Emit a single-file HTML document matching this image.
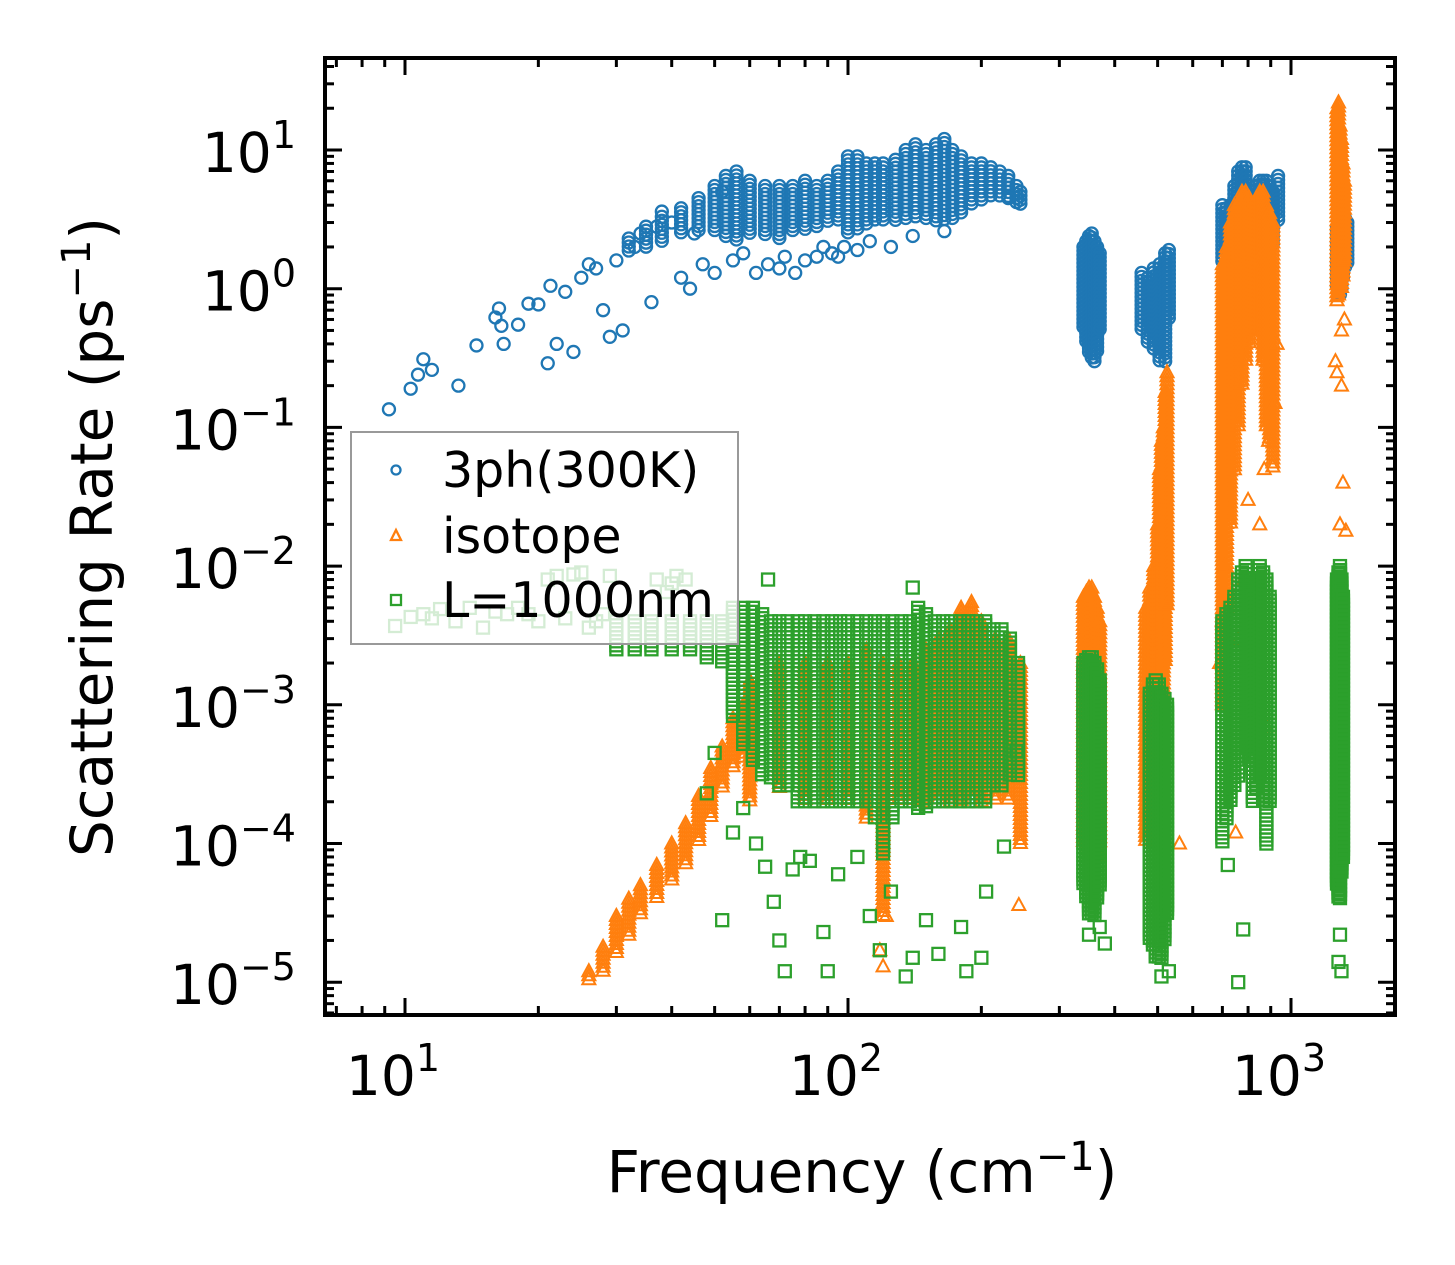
<!DOCTYPE html>
<html><head><meta charset="utf-8"><style>
html,body{margin:0;padding:0;background:#fff;}
svg{display:block;font-family:"DejaVu Sans","Liberation Sans",sans-serif;}
</style></head><body>
<svg id="chart" width="1455" height="1265" viewBox="0 0 1455 1265" xmlns="http://www.w3.org/2000/svg">
<rect width="1455" height="1265" fill="#fff"/>
<g id="marks"></g>
<g id="axes"></g>
<g id="legend"></g>
</svg>
<script>
// ---- data: 3ph(300K) ----
const blueBandF  = [32,35,38,42,46,50,53,56,60,65,70,75,80,85,90,95,100,105,110,115,120,128,135,142,150,158,165,172,180,190,200,210,220,230,240,245, 340,345,350,355,360,365,370, 460,475,490,505,520,530, 700,715,730,745,760,775,790,805,820,835,850,865,880,895,910,935, 1270,1280,1290,1300,1310,1325,1340];
const blueBandLo = [1.8,2.0,2.2,2.4,2.6,2.5,2.3,2.2,2.5,2.4,2.3,2.5,2.6,2.8,3.0,3.0,2.5,2.6,2.8,3.0,3.0,3.0,3.2,3.3,3.2,3.0,3.0,3.2,3.5,4.0,4.2,4.5,4.5,4.5,4.2,4.0, 0.5,0.4,0.35,0.3,0.3,0.35,0.5, 0.5,0.4,0.35,0.3,0.3,0.6, 1.5,1.8,2.0,2.2,2.5,2.5,2.5,2.5,2.5,2.2,2.0,2.2,2.5,2.3,2.0,3.0, 1.0,0.9,0.9,1.0,1.2,1.4,1.5];
const blueBandHi = [2.3,2.8,3.3,3.8,4.5,5.5,6.5,7.0,6.0,5.5,5.5,5.5,6.0,5.5,6.0,7.0,9.0,9.0,8.0,8.0,8.0,8.5,10,11,10,11,12,10,9,8,8,7.5,7,6.5,5.5,5.0, 2.0,2.2,2.4,2.5,2.2,2.0,1.8, 1.3,1.2,1.4,1.5,1.8,1.9, 4.0,3.8,4.0,5.5,7.0,7.5,7.5,5.5,5.0,5.5,6.0,6.0,6.0,5.5,5.0,6.5, 2.8,2.9,3.0,3.3,3.5,3.2,3.0];
const bluePtF = [9.2,10.3,10.7,11,11.5,13.2,14.5,16,16.3,16.5,16.7,18,19,20,21,21.3,22,23,24,25,26,27,28,29,30,31,33,34,36,37,38,40,42,44,45,47,50,52,55,58,62,66,70,72,76,80,85,88,92,98,105,112,125,140,165,95,230];
const bluePtR = [0.135,0.19,0.24,0.31,0.26,0.2,0.39,0.62,0.72,0.54,0.4,0.55,0.78,0.77,0.29,1.05,0.4,0.95,0.35,1.2,1.5,1.4,0.7,0.45,1.6,0.5,2.0,2.5,0.8,2.8,3.6,3.0,1.2,1.0,2.5,1.5,1.3,5.0,1.6,1.8,1.3,1.5,1.4,1.7,1.3,1.6,1.7,2.0,1.8,2.0,1.9,2.2,2.0,2.4,2.6,1.7,4.5];

// ---- data: isotope ----
const orgBandF  = [26,28,30,32,34,37,40,43,46,49,52,55,58, 60,70,80,90,100,110,120,130,140,150,160,170,180,190,200,215,230,245, 340,345,350,355,360,365,370, 470,480,490,500,505,510,515,520,525, 700,715,730,745,760,775,790,805,820,835,850,865,880,895,910, 1270,1280,1290,1300,1310,1320];
const orgBandLo = [1e-5,1.2e-5,1.6e-5,2.2e-5,3e-5,4e-5,5.5e-5,7e-5,1e-4,1.5e-4,2.5e-4,3.5e-4,4e-4, 2e-4,2.5e-4,2e-4,2e-4,2e-4,1.5e-4,3e-5,2e-4,2e-4,2e-4,2e-4,2e-4,2e-4,2e-4,2e-4,2e-4,2e-4,1e-4, 1e-4,9e-5,8e-5,6e-5,5e-5,8e-5,1e-4, 1e-4,1.5e-4,2e-4,3e-4,4e-4,6e-4,1e-3,2e-3,5e-3, 1e-3,5e-3,2e-2,5e-2,0.1,0.2,0.3,0.4,0.5,0.5,0.5,0.3,0.1,0.08,0.05, 0.8,0.9,1.0,1.0,1.2,1.5];
const orgBandHi = [1.2e-5,1.8e-5,3e-5,4e-5,5e-5,7e-5,1e-4,1.4e-4,2.2e-4,3.5e-4,5e-4,8e-4,1e-3, 1.5e-3,2e-3,2e-3,2e-3,2e-3,2.5e-3,2e-3,2e-3,2e-3,2.5e-3,3e-3,3.5e-3,5e-3,5.5e-3,4e-3,3e-3,3e-3,2e-3, 6e-3,6.5e-3,7e-3,7e-3,6e-3,5e-3,4e-3, 5e-3,7e-3,1e-2,2e-2,5e-2,8e-2,0.1,0.18,0.25, 1.5,2,3,4,4,5,5,4.5,4,4.5,5,5,4,3.5,3, 20,22,15,12,8,6];
const orgPtF = [243,240,120,118,122,560,750,880,1270,1300,1290,1330,1310,890,870,850,930,920,800,780,760,710,1320,1300,1260,700,690];
const orgPtR = [3.6e-5,4e-4,1.3e-5,1.7e-5,3e-5,1e-4,1.2e-4,7e-4,0.25,0.2,0.02,0.018,0.04,0.08,0.05,0.02,0.4,0.15,0.03,0.008,0.003,0.01,0.6,0.5,0.3,0.004,0.002];

// ---- data: L=1000nm ----
const grnBandF  = [30,33,36,40,44,48,52, 55,58,61,64,67,70,73,77,80,84,88,92,96,100,105,110,115,120,126,132,138,144,150,157,164,171,179,187,195,204,213,222,232,242, 340,345,350,355,360,365,370, 480,488,495,503,510,518,525, 700,715,730,745,760,775,790,805,820,835,850,865,880,895, 1270,1280,1290,1300,1310];
const grnBandLo = [2.5e-3,2.5e-3,2.5e-3,2.5e-3,2.5e-3,2.2e-3,2e-3, 8e-4,5e-4,4e-4,3e-4,3e-4,2.5e-4,2.5e-4,2e-4,2e-4,2e-4,2e-4,2e-4,2e-4,2e-4,2e-4,2e-4,1.5e-4,8e-5,1.5e-4,2e-4,2e-4,1.8e-4,1.8e-4,2e-4,2e-4,2e-4,2e-4,2e-4,2e-4,2e-4,2.5e-4,2.5e-4,3e-4,3e-4, 5e-5,4e-5,3e-5,3e-5,3e-5,4e-5,5e-5, 2e-5,1.8e-5,1.5e-5,1.5e-5,1.5e-5,2e-5,3e-5, 1e-4,1.5e-4,2e-4,2.5e-4,3e-4,4e-4,5e-4,4e-4,2e-4,2.5e-4,3e-4,2e-4,1e-4,2e-4, 5e-5,4e-5,4e-5,6e-5,8e-5];
const grnBandHi = [4e-3,4e-3,4e-3,4e-3,4e-3,4e-3,4e-3, 5e-3,5e-3,5e-3,4.5e-3,4e-3,4e-3,4e-3,4e-3,4e-3,4e-3,4e-3,4e-3,4e-3,4e-3,4e-3,4e-3,4e-3,4e-3,4e-3,4e-3,4e-3,5e-3,4.5e-3,4e-3,4e-3,4e-3,4e-3,4e-3,4e-3,4e-3,3.5e-3,3.5e-3,3e-3,2e-3, 2e-3,2.1e-3,2.2e-3,2.2e-3,2e-3,1.8e-3,1.5e-3, 1.2e-3,1.4e-3,1.5e-3,1.4e-3,1.2e-3,1.1e-3,1e-3, 4e-3,4.5e-3,5e-3,6e-3,8e-3,9e-3,1e-2,8e-3,6e-3,8e-3,1e-2,9e-3,8e-3,6e-3, 8e-3,9e-3,1e-2,8e-3,6e-3];
const grnPtF = [9.5,10.3,11,11.5,12,13,14,15,16,17,18,19,20,21,22,23,24,25,26,27,28,29,37,39,40,41,43,52,55,48,50,58,62,65,68,70,72,75,78,82,88,90,95,105,112,118,125,135,140,150,160,180,185,200,205,225,240,66,140,760,780,720,1280,1290,1300,510,530,380,350,370];
const grnPtR = [3.7e-3,4.3e-3,4.5e-3,4.2e-3,4.9e-3,4e-3,5e-3,3.6e-3,4.7e-3,4.5e-3,5e-3,4.5e-3,4e-3,8e-3,8.5e-3,4.2e-3,8.7e-3,9e-3,3.6e-3,4e-3,4.5e-3,8.5e-3,8e-3,6.5e-3,7.5e-3,8.5e-3,8e-3,2.8e-5,1.2e-4,2.3e-4,4.5e-4,1.8e-4,1e-4,6.8e-5,3.8e-5,2e-5,1.2e-5,6.5e-5,8e-5,7.5e-5,2.3e-5,1.2e-5,6e-5,8e-5,3e-5,1.7e-5,4.5e-5,1.1e-5,1.5e-5,2.8e-5,1.6e-5,2.5e-5,1.2e-5,1.5e-5,4.5e-5,9.5e-5,4.6e-4,8e-3,7e-3,1e-5,2.4e-5,7e-5,1.4e-5,2.2e-5,1.2e-5,1.1e-5,1.2e-5,1.9e-5,2.2e-5,2.5e-5];

const xTickVals = [10,100,1000];
const xTickLabels = ["1","2","3"];
const yTickVals = [10,1,0.1,0.01,0.001,0.0001,0.00001];
const yTickLabels = ["1","0","\u22121","\u22122","\u22123","\u22124","\u22125"];

const NS = "http://www.w3.org/2000/svg";
const L=325,R=1395,T=58,B=1015;
function X(f){return 405+443*(Math.log10(f)-1);}
function Y(r){return 150-138.7*(Math.log10(r)-1);}
function mk(tag,attrs,parent){const e=document.createElementNS(NS,tag);for(const k in attrs)e.setAttribute(k,attrs[k]);parent.appendChild(e);return e;}
const marks=document.getElementById('marks');
const C={blue:'#1f77b4',org:'#ff7f0e',grn:'#2ca02c'};

function marker(kind,x,y,g){
  let e;
  if(kind==='blue'){e=mk('circle',{cx:x,cy:y,r:6,fill:'none',stroke:C.blue,'stroke-width':2.3},g);}
  else if(kind==='org'){e=mk('path',{d:`M${x},${y-7} L${x+6.5},${y+5} L${x-6.5},${y+5} Z`,fill:'none',stroke:C.org,'stroke-width':2},g);}
  else {e=mk('rect',{x:x-6,y:y-6,width:12,height:12,fill:'none',stroke:C.grn,'stroke-width':2.3},g);}
  return e;
}
function drawSeries(kind,bf,blo,bhi,pf,pr,name){
  const g=mk('g',{},marks);
  
  
  for(let i=0;i<bf.length;i++){
    const x=X(bf[i]),y1=Y(bhi[i]),y2=Y(blo[i]);
    for(let y=y1;y<=y2+0.1;y+=4){
      const e=marker(kind,x,y,g);
      
      
    }
  }
  for(let i=0;i<pf.length;i++){
    const e=marker(kind,X(pf[i]),Y(pr[i]),g);
    
    
  }
}
drawSeries('blue',blueBandF,blueBandLo,blueBandHi,bluePtF,bluePtR,'series-3ph');
drawSeries('org',orgBandF,orgBandLo,orgBandHi,orgPtF,orgPtR,'series-isotope');
drawSeries('grn',grnBandF,grnBandLo,grnBandHi,grnPtF,grnPtR,'series-boundary');

// legend
const lg=document.getElementById('legend');
mk('rect',{x:351,y:432,width:387,height:212,fill:'#fff','fill-opacity':0.8,stroke:'#999','stroke-width':2},lg);
const lgItems=[['blue','3ph(300K)',470],['org','isotope',536],['grn','L=1000nm',600]];
lgItems.forEach(([k,t,y])=>{
  let e;
  if(k==='blue') e=mk('circle',{cx:396,cy:y,r:4.5,fill:'none',stroke:C.blue,'stroke-width':2.3},lg);
  else if(k==='org') e=mk('path',{d:`M396,${y-6} L401,${y+4} L391,${y+4} Z`,fill:'none',stroke:C.org,'stroke-width':2.3},lg);
  else e=mk('rect',{x:391,y:y-5,width:10,height:10,fill:'none',stroke:C.grn,'stroke-width':2.3},lg);
  
  
  const tx=mk('text',{x:442,y:y+17,'font-size':49,fill:'#000'},lg);
  tx.textContent=t;
  
  
});

// axes
const ax=document.getElementById('axes');
mk('rect',{x:L,y:T,width:R-L,height:B-T,fill:'none',stroke:'#000','stroke-width':4},ax);
function tick(x1,y1,x2,y2){mk('line',{x1,y1,x2,y2,stroke:'#000','stroke-width':3},ax);}
for(let d=0;d<=3;d++){
  for(let m=1;m<=9;m++){
    const f=m*Math.pow(10,d);const x=X(f);
    if(x<L+2||x>R-2)continue;
    const len=m===1?17:9;
    tick(x,B,x,B-len);tick(x,T,x,T+len);
  }
}
for(let d=-6;d<=1;d++){
  for(let m=1;m<=9;m++){
    const r=m*Math.pow(10,d);const y=Y(r);
    if(y<T+2||y>B-2)continue;
    const len=m===1?17:9;
    tick(L,y,L+len,y);tick(R,y,R-len,y);
  }
}
xTickVals.forEach((v,i)=>{
  const t=mk('text',{x:X(v)-12,y:1095,'font-size':55,'text-anchor':'middle',fill:'#000'},ax);
  t.innerHTML='10<tspan dy="-24" font-size="38">'+xTickLabels[i]+'</tspan>';
  
  
});
yTickVals.forEach((v,i)=>{
  const t=mk('text',{x:296,y:Y(v)+22,'font-size':55,'text-anchor':'end',fill:'#000'},ax);
  t.innerHTML='10<tspan dy="-24" font-size="38">'+yTickLabels[i]+'</tspan>';
  
  
});
const xt=mk('text',{x:862,y:1192,'font-size':58,'text-anchor':'middle',fill:'#000'},ax);
xt.innerHTML='Frequency (cm<tspan dy="-22" font-size="40">\u22121</tspan><tspan dy="22">)</tspan>';


const yt=mk('text',{x:0,y:0,'font-size':58,'text-anchor':'middle',fill:'#000',transform:'translate(112,537) rotate(-90)'},ax);
yt.innerHTML='Scattering Rate (ps<tspan dy="-22" font-size="40">\u22121</tspan><tspan dy="22">)</tspan>';


</script>
</body></html>
